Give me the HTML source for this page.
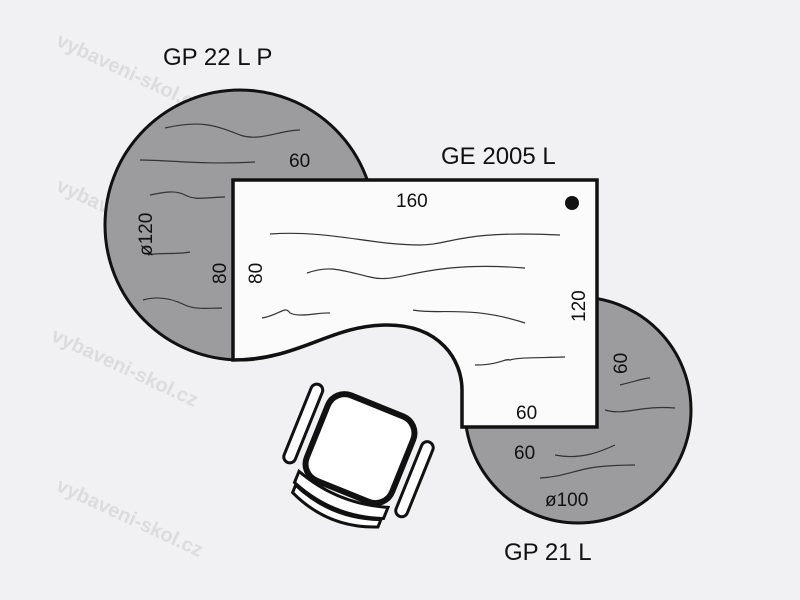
<!DOCTYPE html>
<html><head><style>
html,body{margin:0;padding:0;background:#f1f1f3;}
svg{display:block;}
text{font-family:"Liberation Sans",sans-serif;fill:#111;}
</style></head><body>
<svg width="800" height="600" viewBox="0 0 800 600" xmlns="http://www.w3.org/2000/svg">
<rect width="800" height="600" fill="#f1f1f3"/>
<g>
<text x="55" y="45" transform="rotate(25 55 45)" style="fill:#dcdce0;font-weight:bold;font-size:20px">vybaveni-skol.cz</text>
<text x="55" y="190" transform="rotate(25 55 190)" style="fill:#dcdce0;font-weight:bold;font-size:20px">vybaveni-skol.cz</text>
<text x="50" y="340" transform="rotate(25 50 340)" style="fill:#dcdce0;font-weight:bold;font-size:20px">vybaveni-skol.cz</text>
<text x="55" y="490" transform="rotate(25 55 490)" style="fill:#dcdce0;font-weight:bold;font-size:20px">vybaveni-skol.cz</text>
</g>
<circle cx="240" cy="225" r="135" fill="#9c9c9e" stroke="#111" stroke-width="3"/>
<circle cx="578" cy="410" r="113" fill="#9c9c9e" stroke="#111" stroke-width="3"/>
<path d="M233,180 L597,180 L597,427 L462,427 L462,390 C462,360 440,325 387,325 C330,325 300,360 233,360 Z" fill="#fbfbfb" stroke="#111" stroke-width="3.5" stroke-linejoin="miter"/>
<g fill="none" stroke="#333" stroke-width="1.2">
<path d="M165,128 C200,120 215,125 240,135 C260,142 280,130 300,130"/>
<path d="M140,160 C170,160 200,165 255,162"/>
<path d="M150,195 C165,192 175,190 185,195 C195,200 200,198 225,197"/>
<path d="M148,255 C160,252 175,255 190,252"/>
<path d="M143,300 C160,295 175,300 185,305 C195,310 210,308 222,308"/>
<path d="M270,234 C330,230 370,245 420,245 C450,245 460,230 560,235"/>
<path d="M307,273 C330,265 340,270 370,277 C400,285 420,260 525,268"/>
<path d="M262,318 C280,315 285,305 290,313 C300,318 320,312 330,313"/>
<path d="M413,310 C440,315 470,305 525,323"/>
<path d="M475,365 C500,365 505,358 510,360 C520,357 540,358 565,357"/>
<path d="M620,385 C640,380 645,378 650,378"/>
<path d="M605,410 C625,416 640,405 675,408"/>
<path d="M555,455 C580,460 600,452 615,445"/>
<path d="M540,478 C560,477 570,472 590,468 C600,466 620,465 635,465"/>
</g>
<circle cx="572" cy="203" r="7" fill="#111"/>
<g font-size="24">
<text x="163" y="65">GP 22 L P</text>
<text x="441" y="164">GE 2005 L</text>
<text x="504" y="560">GP 21 L</text>
</g>
<g font-size="19">
<text x="289" y="167">60</text>
<text x="396" y="207">160</text>
<text x="516" y="419">60</text>
<text x="514" y="459">60</text>
<text x="545" y="506">ø100</text>
<text transform="translate(152,256) rotate(-90)">ø120</text>
<text transform="translate(226,284) rotate(-90)">80</text>
<text transform="translate(262,284) rotate(-90)">80</text>
<text transform="translate(585,322) rotate(-90)">120</text>
<text transform="translate(627,374) rotate(-90)">60</text>
</g>
<g transform="translate(357,456) rotate(22)" fill="#fff" stroke="#111">
<rect x="-46" y="-54" width="92" height="92" rx="18" stroke-width="6"/>
<path d="M-48,36 Q0,52 48,36 L48,48 Q0,66 -48,48 Z" stroke-width="3"/>
<path d="M-46,50 Q0,68 46,50 L46,58 Q0,78 -46,58 Z" stroke-width="3"/>
<rect x="-68" y="-52" width="12" height="84" rx="6" stroke-width="3"/>
<rect x="56" y="-40" width="12" height="80" rx="6" stroke-width="3"/>
</g>
</svg>
</body></html>
